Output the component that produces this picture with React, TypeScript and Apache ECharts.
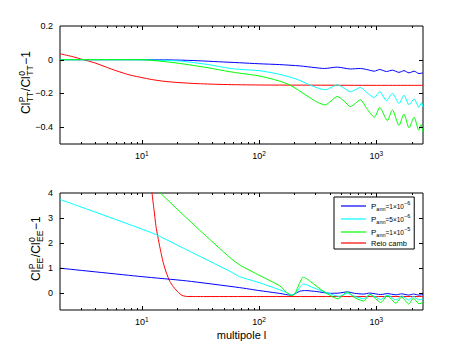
import React, { useEffect, useRef } from "react";
import * as echarts from "echarts";

const FONT = "Liberation Sans, Arial, Helvetica, sans-serif";

// ---- TT panel (top) ----
const ttRedL = [2, 2.5, 3, 3.5, 4, 5, 6, 7, 8, 10, 12, 15, 20, 30, 50, 100, 300, 1000, 2500];
const ttRedV = [0.035, 0.02, 0.005, -0.008, -0.02, -0.045, -0.065, -0.08, -0.092, -0.106, -0.117, -0.127, -0.135, -0.142, -0.147, -0.15, -0.151, -0.152, -0.152];

const ttBlueL = [2, 10, 20, 30, 45, 68, 100, 150, 224, 300, 360, 464, 600, 730, 850, 960, 1070, 1220, 1370, 1560, 1720, 1900, 2100, 2310, 2500];
const ttBlueV = [0, 0, -0.002, -0.006, -0.012, -0.018, -0.024, -0.029, -0.037, -0.047, -0.052, -0.044, -0.055, -0.052, -0.06, -0.068, -0.058, -0.07, -0.062, -0.075, -0.065, -0.078, -0.068, -0.082, -0.078];

const ttCyanL = [2, 8, 12, 21, 36, 56, 68, 100, 148, 210, 273, 330, 370, 410, 464, 530, 600, 660, 730, 830, 960, 1070, 1220, 1370, 1560, 1720, 1900, 2100, 2310, 2420, 2500];
const ttCyanV = [0, 0, -0.002, -0.008, -0.028, -0.051, -0.057, -0.065, -0.086, -0.116, -0.151, -0.172, -0.178, -0.165, -0.149, -0.168, -0.19, -0.178, -0.165, -0.195, -0.224, -0.19, -0.243, -0.2, -0.26, -0.21, -0.267, -0.233, -0.283, -0.255, -0.28];

const ttGreenL = [2, 10, 15, 21, 36, 56, 68, 100, 148, 184, 256, 310, 366, 410, 464, 530, 600, 660, 730, 830, 960, 1070, 1240, 1370, 1560, 1720, 1900, 2100, 2300, 2400, 2500];
const ttGreenV = [0, 0, -0.01, -0.022, -0.047, -0.071, -0.08, -0.096, -0.126, -0.151, -0.214, -0.25, -0.268, -0.245, -0.218, -0.245, -0.278, -0.26, -0.238, -0.29, -0.341, -0.283, -0.361, -0.298, -0.39, -0.322, -0.404, -0.341, -0.418, -0.385, -0.43];

// ---- EE panel (bottom) ----
const eeBlueL = [2, 10, 24, 68, 100, 148, 175, 190, 205, 224, 250, 310, 405, 480, 565, 650, 780, 880, 1090, 1240, 1470, 1640, 1890, 2070, 2310, 2500];
const eeBlueV = [0.98, 0.64, 0.47, 0.2, 0.08, -0.03, -0.09, -0.11, -0.03, 0.06, 0.08, 0.04, -0.03, -0.02, 0.03, -0.03, -0.06, -0.02, -0.08, -0.04, -0.09, -0.05, -0.1, -0.06, -0.1, -0.08];

const eeCyanL = [2, 4.3, 10, 13.3, 24, 56, 68, 100, 148, 175, 186, 194, 205, 222, 240, 280, 366, 480, 565, 650, 780, 880, 1090, 1240, 1470, 1640, 1890, 2070, 2310, 2500];
const eeCyanV = [3.74, 3.18, 2.55, 2.32, 1.72, 0.86, 0.64, 0.4, 0.12, -0.02, -0.08, -0.1, -0.02, 0.2, 0.35, 0.22, 0.02, -0.15, -0.03, -0.15, -0.25, -0.07, -0.28, -0.1, -0.3, -0.13, -0.3, -0.15, -0.3, -0.25];

const eeGreenL = [14, 20, 31.2, 56.5, 68.8, 101.6, 150, 170, 182, 190, 203, 220, 237, 250, 273, 366, 470, 565, 650, 780, 880, 1090, 1240, 1470, 1640, 1890, 2070, 2310, 2500];
const eeGreenV = [4.05, 3.35, 2.5, 1.4, 1.1, 0.68, 0.27, 0.02, -0.09, -0.12, -0.02, 0.35, 0.62, 0.58, 0.45, 0.0, -0.25, 0.03, -0.2, -0.34, -0.07, -0.4, -0.13, -0.43, -0.18, -0.46, -0.22, -0.45, -0.4];

const eeRedL = [11.6, 12.2, 12.7, 13.2, 14.2, 15.2, 16.2, 17.3, 18.5, 19.5, 20.5, 21.5, 22.5, 24, 30, 100, 1000, 2500];
const eeRedV = [5.2, 4.0, 3.3, 2.64, 1.84, 1.2, 0.78, 0.45, 0.24, 0.11, 0.0, -0.08, -0.13, -0.155, -0.16, -0.16, -0.16, -0.16];

// ---- ticks ----
const xMajorTicks = [10, 100, 1000];
const xMinorTicks = [3, 4, 5, 6, 7, 8, 9, 20, 30, 40, 50, 60, 70, 80, 90, 200, 300, 400, 500, 600, 700, 800, 900, 2000];
const ttYTicks = [-0.4, -0.2, 0];
const eeYTicks = [0, 1, 2, 3];

const seriesNames = ["P_ann=1×10^-6", "P_ann=5×10^-6", "P_ann=1×10^-5", "Reio camb"];
const legendLabels: Record<string, string> = {
  "P_ann=1×10^-6": "{p|P}{sb|ann}{n|=1×10}{sp|−6}",
  "P_ann=5×10^-6": "{p|P}{sb|ann}{n|=5×10}{sp|−6}",
  "P_ann=1×10^-5": "{p|P}{sb|ann}{n|=1×10}{sp|−5}",
  "Reio camb": "{r|Reio camb}",
};
const colors = ["#0000ff", "#00ffff", "#00ff00", "#ff0000"];

const zip = (a: number[], b: number[]) => a.map((x, i) => [x, b[i]]);

function tickData(yTicks: number[]) {
  const d: number[][] = [];
  xMinorTicks.forEach((v) => d.push([v, 0, 0]));
  xMajorTicks.forEach((v) => d.push([v, 0, 1]));
  yTicks.forEach((v) => d.push([10, v, 2]));
  return d;
}

function tickSeries(idx: number, yTicks: number[]) {
  return {
    type: "custom",
    xAxisIndex: idx,
    yAxisIndex: idx,
    silent: true,
    clip: false,
    z: 10,
    encode: { x: 0, y: 1 },
    data: tickData(yTicks),
    renderItem: (params: any, api: any) => {
      const cs = params.coordSys;
      const t = api.value(2);
      const st = { stroke: "#000", lineWidth: 1 };
      if (t < 2) {
        const p = api.coord([api.value(0), api.value(1)]);
        const x = Math.round(p[0]) + 0.5;
        const len = t === 1 ? 4 : 2;
        return {
          type: "group",
          children: [
            { type: "line", shape: { x1: x, y1: cs.y, x2: x, y2: cs.y + len }, style: st },
            { type: "line", shape: { x1: x, y1: cs.y + cs.height, x2: x, y2: cs.y + cs.height - len }, style: st },
          ],
        };
      }
      const p = api.coord([10, api.value(1)]);
      const y = Math.round(p[1]) + 0.5;
      return {
        type: "group",
        children: [
          { type: "line", shape: { x1: cs.x, y1: y, x2: cs.x + 4, y2: y }, style: st },
          { type: "line", shape: { x1: cs.x + cs.width, y1: y, x2: cs.x + cs.width - 4, y2: y }, style: st },
        ],
      };
    },
  };
}

function yTitle(cx: number, cy: number, sub: string) {
  const big = 12;
  const small = 8.5;
  const subW = sub === "TT" ? 10.4 : 11.3;
  const parts: any[] = [];
  let x = -32;
  const add = (text: string, px: number, py: number, size: number) =>
    parts.push({
      type: "text",
      x: px,
      y: py,
      style: { text, fontSize: size, fontFamily: FONT, fill: "#000", align: "left", verticalAlign: "middle" },
    });
  add("Cl", x, 0, big);
  x += 11.8;
  add("P", x, -4.5, small);
  add(sub, x, 4, small);
  x += subW + 0.6;
  add("/", x, 0, big);
  x += 3.6;
  add("Cl", x, 0, big);
  x += 11.8;
  add("0", x, -4.5, small);
  add(sub, x, 4, small);
  x += subW + 0.6;
  add("−1", x, 0, big);
  return { type: "group", x: cx, y: cy, rotation: Math.PI / 2, children: parts };
}

function lineSeries(idx: number, name: string, color: string, data: number[][], smooth: number | boolean) {
  return {
    type: "line",
    name,
    xAxisIndex: idx,
    yAxisIndex: idx,
    data,
    symbol: "none",
    showSymbol: false,
    smooth,
    clip: true,
    lineStyle: { color, width: 1 },
    itemStyle: { color },
  };
}

const xLabel = {
  color: "#000",
  margin: 6,
  fontFamily: FONT,
  formatter: (v: number) => {
    const e = Math.log10(v);
    const r = Math.round(e);
    if (Math.abs(e - r) > 1e-6) return "";
    return `{m|10}{s|${r}}`;
  },
  rich: {
    m: { fontSize: 9, lineHeight: 12, fontFamily: FONT, color: "#000" },
    s: { fontSize: 6.5, verticalAlign: "top", fontFamily: FONT, color: "#000" },
  },
};

export default function App() {
  const ref = useRef<HTMLDivElement>(null);
  useEffect(() => {
    if (!ref.current) return;
    const chart = echarts.init(ref.current, undefined, { renderer: "svg" });
    const gridBase = {
      left: 60,
      width: 363,
      show: true,
      borderColor: "#000",
      borderWidth: 1,
      backgroundColor: "transparent",
      containLabel: false,
      outerBoundsMode: "none",
    };
    const option: any = {
      animation: false,
      backgroundColor: "#fff",
      textStyle: { fontFamily: FONT },
      grid: [
        { ...gridBase, top: 26, height: 118 },
        { ...gridBase, top: 193, height: 117 },
      ],
      xAxis: [0, 1].map((i) => ({
        type: "log",
        logBase: 10,
        gridIndex: i,
        min: 2,
        max: 2500,
        splitNumber: 5,
        axisLine: { show: false },
        axisTick: { show: false },
        minorTick: { show: false },
        splitLine: { show: false },
        axisLabel: xLabel,
        name: i === 1 ? "multipole l" : "",
        nameLocation: "middle",
        nameGap: 19,
        nameTextStyle: { fontSize: 11, color: "#000", fontFamily: FONT },
      })),
      yAxis: [
        {
          type: "value",
          gridIndex: 0,
          min: -0.5,
          max: 0.2,
          interval: 0.1,
          axisLine: { show: false },
          axisTick: { show: false },
          splitLine: { show: false },
          axisLabel: {
            color: "#000",
            fontSize: 9,
            margin: 7,
            fontFamily: FONT,
            formatter: (v: number) => {
              const r = Math.round(v * 10);
              if (r % 2 !== 0) return "";
              if (r === 0) return "0";
              return (r < 0 ? "−" : "") + (Math.abs(r) / 10).toFixed(1);
            },
          },
        },
        {
          type: "value",
          gridIndex: 1,
          min: -0.7,
          max: 4,
          interval: 0.1,
          axisLine: { show: false },
          axisTick: { show: false },
          splitLine: { show: false },
          axisLabel: {
            color: "#000",
            fontSize: 9,
            margin: 7,
            fontFamily: FONT,
            formatter: (v: number) => {
              const r = Math.round(v * 10);
              if (r % 10 !== 0) return "";
              return String(r / 10);
            },
          },
        },
      ],
      legend: {
        data: seriesNames,
        orient: "vertical",
        left: 334,
        top: 197,
        padding: [3, 4, 2, 7],
        itemGap: 1,
        itemWidth: 25,
        itemHeight: 1.2,
        icon: "rect",
        align: "left",
        borderColor: "#000",
        borderWidth: 1,
        backgroundColor: "#fff",
        selectedMode: false,
        formatter: (name: string) => legendLabels[name] || name,
        textStyle: {
          fontSize: 7.5,
          color: "#000",
          fontFamily: FONT,
          rich: {
            p: { fontSize: 8, lineHeight: 12, fontFamily: FONT, color: "#000" },
            sb: { fontSize: 5.5, verticalAlign: "bottom", fontFamily: FONT, color: "#000" },
            n: { fontSize: 6.5, fontFamily: FONT, color: "#000" },
            sp: { fontSize: 5.5, verticalAlign: "top", fontFamily: FONT, color: "#000" },
            r: { fontSize: 7.5, lineHeight: 12, fontFamily: FONT, color: "#000" },
          },
        },
      },
      graphic: [yTitle(26, 82, "TT"), yTitle(36, 249, "EE")],
      series: [
        lineSeries(0, seriesNames[3], colors[3], zip(ttRedL, ttRedV), 0.25),
        lineSeries(0, seriesNames[0], colors[0], zip(ttBlueL, ttBlueV), 0.25),
        lineSeries(0, seriesNames[1], colors[1], zip(ttCyanL, ttCyanV), 0.25),
        lineSeries(0, seriesNames[2], colors[2], zip(ttGreenL, ttGreenV), 0.25),
        lineSeries(1, seriesNames[3], colors[3], zip(eeRedL, eeRedV), 0.2),
        lineSeries(1, seriesNames[0], colors[0], zip(eeBlueL, eeBlueV), 0.2),
        lineSeries(1, seriesNames[1], colors[1], zip(eeCyanL, eeCyanV), 0.2),
        lineSeries(1, seriesNames[2], colors[2], zip(eeGreenL, eeGreenV), 0.2),
        tickSeries(0, ttYTicks),
        tickSeries(1, eeYTicks),
      ],
    };
    chart.setOption(option);
    return () => chart.dispose();
  }, []);
  return (
    <div
      ref={ref}
      style={{ position: "fixed", left: 0, top: 0, width: 467, height: 351, background: "#fff" }}
    />
  );
}
